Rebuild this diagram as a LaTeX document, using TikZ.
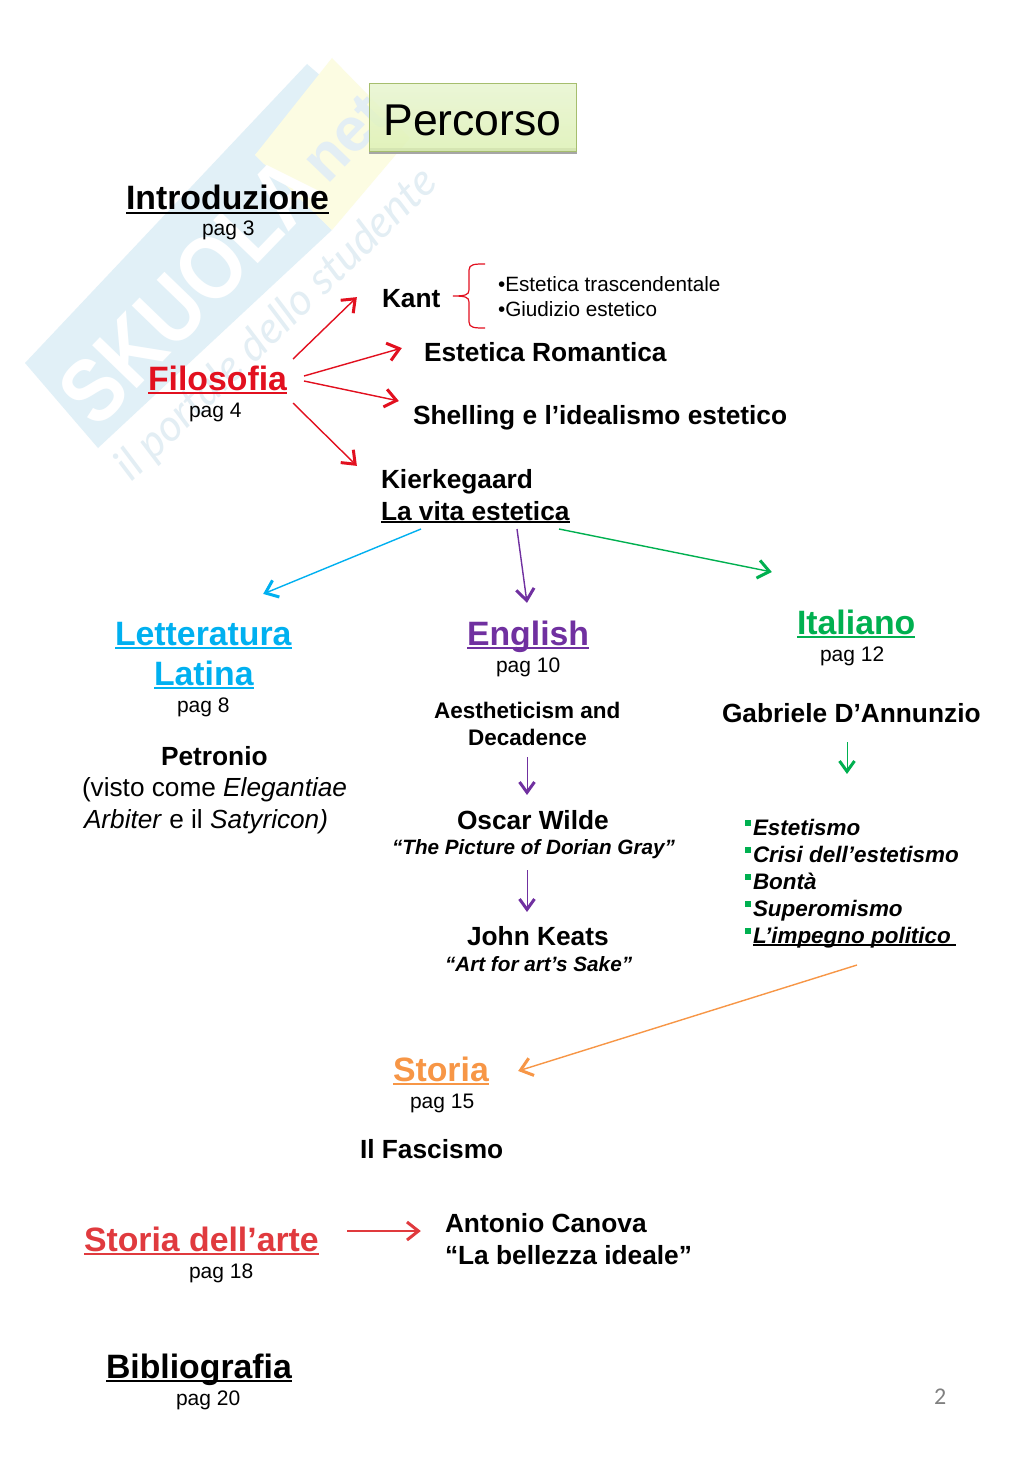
\documentclass[tikz,border=0pt]{standalone}
\usepackage{fontspec}
\usepackage{graphicx}
\setmainfont{Liberation Sans}
\newfontfamily\numfont{Carlito}
\newfontfamily\tagfont{Lato}
\usetikzlibrary{arrows.meta}
\pgfdeclarearrow{
  name=OpenHead,
  parameters={\the\pgfarrowlength,\the\pgfarrowwidth},
  setup code={
    \pgfarrowssettipend{0pt}
    \pgfarrowssetlineend{-3pt}
    \pgfarrowssetvisualbackend{-\pgfarrowlength}
    \pgfarrowssetbackend{-\pgfarrowlength}
    \pgfarrowshullpoint{0pt}{0pt}
    \pgfarrowsupperhullpoint{-\pgfarrowlength}{.5\pgfarrowwidth}
    \pgfarrowssavethe\pgfarrowlength
    \pgfarrowssavethe\pgfarrowwidth
  },
  drawing code={
    \pgfsetdash{}{+0pt}
    \pgfsetlinewidth{3pt}
    \pgfsetmiterjoin
    \pgfsetbuttcap
    \pgfpathmoveto{\pgfqpoint{-\pgfarrowlength}{.5\pgfarrowwidth}}
    \pgfpathlineto{\pgfqpoint{-2.6pt}{0pt}}
    \pgfpathlineto{\pgfqpoint{-\pgfarrowlength}{-.5\pgfarrowwidth}}
    \pgfusepathqstroke
  },
  defaults={length=13pt,width=18pt}
}
\definecolor{cRed}{HTML}{E2101F}
\definecolor{cBlue}{HTML}{00B0F0}
\definecolor{cPurple}{HTML}{7030A0}
\definecolor{cGreen}{HTML}{00B050}
\definecolor{cOrange}{HTML}{F79646}
\definecolor{cArt}{HTML}{E03A3E}
\definecolor{wmBlue}{HTML}{E1F0F7}
\definecolor{wmYellow}{HTML}{FCFCE2}
\definecolor{wmText}{HTML}{E3EEF4}
\definecolor{boxTop}{HTML}{E8F5D0}
\definecolor{boxBot}{HTML}{DDF1B4}
\definecolor{boxEdge}{HTML}{A6BE6E}
\newsavebox\ulbox
\newcommand{\ulx}[1]{\sbox\ulbox{#1}\leavevmode\rlap{\rule[-0.125em]{\wd\ulbox}{0.07em}}\usebox\ulbox}
\newcommand{\fs}[1]{\fontsize{#1}{#1}\selectfont}
\newcommand{\sqb}{\textcolor{cGreen}{\rule[0.42em]{5.5pt}{5.5pt}}\kern2.5pt}
\tikzset{
  txt/.style={anchor=base west,inner sep=0pt,outer sep=0pt},
  head/.style={txt,font=\fs{33.8}\bfseries},
  page/.style={txt,font=\fs{21}},
  bold/.style={txt,font=\fs{26.3}\bfseries},
  plain/.style={txt,font=\fs{26.2}},
  small/.style={txt,font=\fs{20.7}},
  subb/.style={txt,font=\fs{22.5}\bfseries},
  quoteb/.style={txt,font=\fs{20.7}\bfseries\itshape},
  listb/.style={txt,font=\fs{22.45}\bfseries\itshape},
  conn/.style={line width=1.4pt,-{OpenHead[length=14pt,width=18pt]}},
  thinconn/.style={line width=1pt,-{OpenHead[length=13pt,width=15pt]}},
}
\begin{document}
\begin{tikzpicture}[x=1pt,y=-1pt]
\useasboundingbox (0,0) rectangle (1013,1463);
\fill[white] (0,0) rectangle (1013,1463);
% watermark
\fill[wmBlue] (25,363) -- (307,64) -- (322,77) -- (255,155) -- (332,230) -- (98,448) -- cycle;
\fill[wmYellow] (332,58) -- (410,138) -- (332,230) -- (255,155) -- cycle;
\node[rotate=46,inner sep=0pt,text=white,font=\fs{90}\bfseries] (wmname) at (190,290) {\scalebox{0.87}[1]{SKUOLA}};
\node[rotate=46,inner sep=0pt,text=wmText,font=\fs{62}\bfseries] (wmnet) at (345,138) {net};
\node[rotate=44,inner sep=0pt,text=wmText,font=\fs{44}\tagfont\itshape] (wmtag) at (277,325) {il portale dello studente};
% title
\fill[black!35] (369,148) rectangle (577,154);
\node[draw=boxEdge,line width=.8pt,top color=boxTop,bottom color=boxBot,fill opacity=.85,text opacity=1,minimum width=207pt,minimum height=68pt,inner sep=0pt] (title) at (472.5,117.5) {};
\node[txt,font=\fs{44.5}] (titletxt) at (383.5,136) {Percorso};
% texts
\node[head] (intro) at (126,210) {\ulx{Introduzione}};
\node[page] (p3) at (202,236) {pag 3};
\node[head,text=cRed] (filo) at (148,390) {\ulx{Filosofia}};
\node[page] (p4) at (189,417) {pag 4};
\node[bold] (kant) at (382,307) {Kant};
\node[small] (kant1) at (498,291) {•Estetica trascendentale};
\node[small] (kant2) at (498,316) {•Giudizio estetico};
\node[bold] (romant) at (424,361) {Estetica Romantica};
\node[bold] (shell) at (413,424) {Shelling e l’idealismo estetico};
\node[bold] (kierk) at (381,488) {Kierkegaard};
\node[bold] (vita) at (381,520) {\ulx{La vita estetica}};
\node[head,text=cBlue] (lett) at (115,645) {\ulx{Letteratura}};
\node[head,text=cBlue] (lat) at (154,685) {\ulx{Latina}};
\node[page] (p8) at (177,712) {pag 8};
\node[bold] (petr) at (161,765) {Petronio};
\node[plain] (vist) at (82,796) {(visto come \textit{Elegantiae}};
\node[plain] (arb) at (84,828) {\textit{Arbiter} e il \textit{Satyricon)}};
\node[head,text=cPurple] (eng) at (467,645) {\ulx{English}};
\node[page] (p10) at (496,672) {pag 10};
\node[subb] (aes) at (434,718) {Aestheticism and};
\node[subb] (dec) at (468,745) {Decadence};
\node[bold] (osc) at (457,829) {Oscar Wilde};
\node[quoteb] (pic) at (392,854) {“The Picture of Dorian Gray”};
\node[bold] (john) at (467,945) {John Keats};
\node[quoteb] (art) at (445,971) {“Art for art’s Sake”};
\node[head,text=cGreen] (ita) at (797,634) {\ulx{Italiano}};
\node[page] (p12) at (820,661) {pag 12};
\node[bold] (gab) at (722,722) {Gabriele D’Annunzio};
\node[listb] (l1) at (745,835) {\sqb Estetismo};
\node[listb] (l2) at (745,862) {\sqb Crisi dell’estetismo};
\node[listb] (l3) at (745,889) {\sqb Bontà};
\node[listb] (l4) at (745,916) {\sqb Superomismo};
\node[listb] (l5) at (745,943) {\sqb\ulx{L’impegno politico\kern5pt}};
\node[head,text=cOrange] (sto) at (393,1081) {\ulx{Storia}};
\node[page] (p15) at (410,1108) {pag 15};
\node[bold] (fasc) at (360,1158) {Il Fascismo};
\node[head,text=cArt] (sart) at (84,1251) {\ulx{Storia dell’arte}};
\node[page] (p18) at (189,1278) {pag 18};
\node[bold] (can) at (445,1232) {Antonio Canova};
\node[bold] (bel) at (445,1264) {“La bellezza ideale”};
\node[head] (bib) at (106,1378) {\ulx{Bibliografia}};
\node[page] (p20) at (176,1405) {pag 20};
\node[txt,text=black!50,font=\fs{24}\numfont] (num) at (934,1404) {2};
% connector ends
\coordinate (fa) at (293,359); \coordinate (ka) at (357,297);
\coordinate (fb) at (304,376); \coordinate (ro) at (402,348);
\coordinate (fc) at (304,381); \coordinate (sh) at (399,401);
\coordinate (fd) at (293,403); \coordinate (ki) at (357,466);
\coordinate (va) at (421,529); \coordinate (le) at (263,594);
\coordinate (vb) at (517,529); \coordinate (en) at (527,603);
\coordinate (vc) at (559,529); \coordinate (it) at (772,572);
\coordinate (ga) at (527,757); \coordinate (gb) at (527,795);
\coordinate (gc) at (527,870); \coordinate (gd) at (527,912);
\coordinate (ge) at (847,742); \coordinate (gf) at (847,774);
\coordinate (or) at (857,965); \coordinate (st) at (518,1071);
\coordinate (aa) at (347,1231); \coordinate (ab) at (421,1231);
% connectors
\draw[conn,cRed] (fa) -- (ka);
\draw[conn,cRed] (fb) -- (ro);
\draw[conn,cRed] (fc) -- (sh);
\draw[conn,cRed] (fd) -- (ki);
\draw[conn,cBlue] (va) -- (le);
\draw[conn,cPurple] (vb) -- (en);
\draw[conn,cGreen] (vc) -- (it);
\draw[thinconn,cPurple] (ga) -- (gb);
\draw[thinconn,cPurple] (gc) -- (gd);
\draw[thinconn,cGreen] (ge) -- (gf);
\draw[conn,cOrange] (or) -- (st);
\draw[conn,cArt] (aa) -- (ab);
% brace
\draw[cRed,line width=1.2pt] (485,264) .. controls (475,264) and (469,264) .. (469,270) -- (469,290) .. controls (469,295) and (465,296) .. (453,296) .. controls (465,296) and (469,297) .. (469,302) -- (469,322) .. controls (469,328) and (475,328) .. (485,328);
\end{tikzpicture}
\end{document}
